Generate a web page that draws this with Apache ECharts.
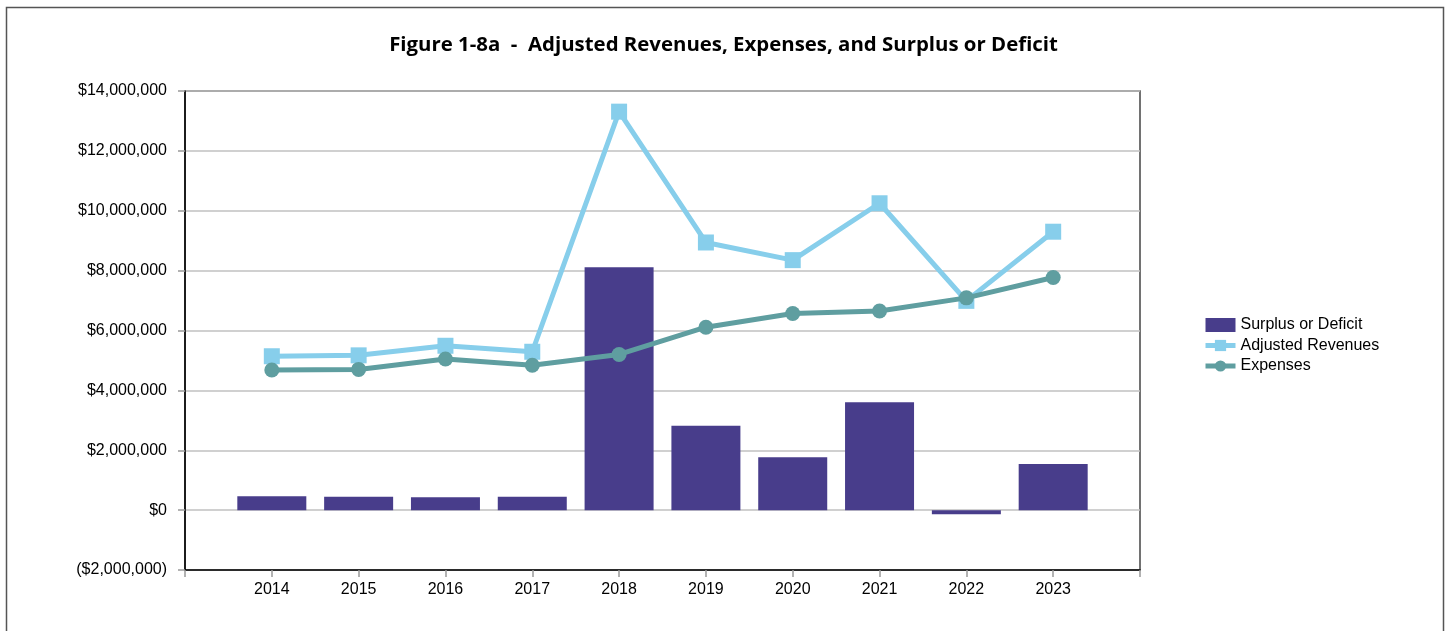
<!DOCTYPE html>
<html>
<head>
<meta charset="utf-8">
<script src="https://cdn.jsdelivr.net/npm/echarts@6/dist/echarts.min.js"></script>
<style>
html,body{margin:0;padding:0;background:#fff;}
#chart{width:1447px;height:631px;}
</style>
</head>
<body>
<div id="chart"></div>
<script>
const years = [2014, 2015, 2016, 2017, 2018, 2019, 2020, 2021, 2022, 2023];
const surplus = [460000, 450000, 430000, 450000, 8110000, 2820000, 1770000, 3600000, -140000, 1540000];
const revenues = [5140000, 5170000, 5490000, 5290000, 13310000, 8940000, 8350000, 10250000, 6990000, 9300000];
const expenses = [4680000, 4700000, 5050000, 4840000, 5200000, 6110000, 6570000, 6650000, 7090000, 7770000];
const yMin = -2000000, yMax = 14000000, yStep = 2000000;
const xMin = 2013, xMax = 2024;

function money(v){
  const s = '$' + Math.abs(v).toLocaleString('en-US');
  return v < 0 ? '(' + s + ')' : s;
}
const pair = arr => years.map((y, i) => [y, arr[i]]);

const chart = echarts.init(document.getElementById('chart'));
chart.setOption({
  animation: false,
  backgroundColor: '#fff',
  graphic: [{
    type: 'rect',
    shape: {x: 6.5, y: 7.5, width: 1437, height: 700},
    style: {fill: 'none', stroke: '#555', lineWidth: 1.5},
    silent: true
  }],
  title: {
    text: 'Figure 1-8a  -  Adjusted Revenues, Expenses, and Surplus or Deficit',
    left: 'center',
    top: 30,
    textStyle: {fontFamily: 'Open Sans', fontWeight: 'bold', fontSize: 20.4, color: '#000'}
  },
  legend: {
    orient: 'vertical',
    left: 1198,
    top: 312,
    itemWidth: 30,
    itemHeight: 14,
    itemGap: 4.5,
    lineStyle: {width: 5},
    textStyle: {fontFamily: 'Liberation Sans', fontSize: 16, color: '#000'},
    data: [{name: 'Surplus or Deficit', icon: 'rect'}, 'Adjusted Revenues', 'Expenses']
  },
  grid: {
    left: 185, right: 307, top: 91, bottom: 61,
    show: true, borderColor: '#444', borderWidth: 1.5, backgroundColor: 'transparent'
  },
  xAxis: {
    type: 'value',
    min: xMin, max: xMax, interval: 1,
    splitLine: {show: false},
    axisLine: {show: true, onZero: false, lineStyle: {color: '#000', width: 1.5}},
    axisTick: {show: true, length: 7, lineStyle: {color: '#999', width: 1.5}},
    axisLabel: {
      fontFamily: 'Liberation Sans', fontSize: 16, color: '#000', margin: 12,
      formatter: v => (v > xMin && v < xMax) ? String(v) : ''
    }
  },
  yAxis: {
    type: 'value',
    min: yMin, max: yMax, interval: yStep,
    axisLine: {show: true, lineStyle: {color: '#000', width: 1.5}},
    axisTick: {show: true, length: 7, lineStyle: {color: '#999', width: 1.5}},
    splitLine: {lineStyle: {color: '#c0c0c0', width: 1.5}},
    axisLabel: {fontFamily: 'Liberation Sans', fontSize: 16, color: '#000', margin: 18, formatter: money}
  },
  series: [
    {
      name: 'Surplus or Deficit',
      type: 'bar',
      data: pair(surplus),
      barWidth: 69,
      itemStyle: {color: '#483D8B'},
      z: 1
    },
    {
      name: 'Adjusted Revenues',
      type: 'line',
      data: pair(revenues),
      symbol: 'rect',
      symbolSize: 16,
      lineStyle: {color: '#87CEEB', width: 5},
      itemStyle: {color: '#87CEEB'},
      z: 3
    },
    {
      name: 'Expenses',
      type: 'line',
      data: pair(expenses),
      symbol: 'circle',
      symbolSize: 15,
      lineStyle: {color: '#5F9EA0', width: 5},
      itemStyle: {color: '#5F9EA0'},
      z: 4
    }
  ]
});
</script>
</body>
</html>
